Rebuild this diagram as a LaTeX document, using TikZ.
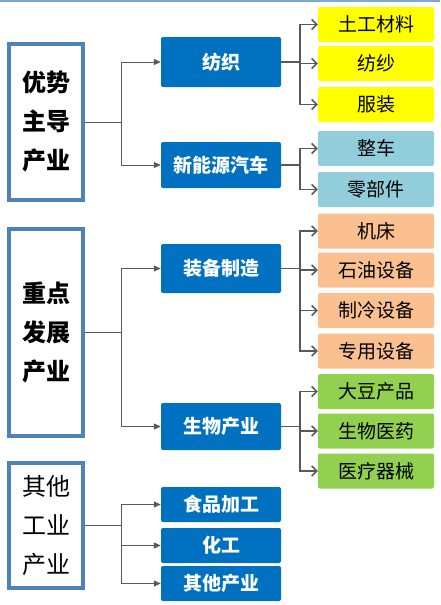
\documentclass[tikz,border=0pt]{standalone}
\usepackage{fontspec}
\setmainfont{Noto Sans CJK SC}
\usetikzlibrary{arrows.meta}
\definecolor{topblue}{HTML}{7AA9CF}
\definecolor{groupblue}{HTML}{4F81BD}
\definecolor{sectorblue}{HTML}{0070C0}
\definecolor{linkgray}{HTML}{595959}
\definecolor{textileyellow}{HTML}{FFFF00}
\definecolor{carblue}{HTML}{92CDDC}
\definecolor{machineorange}{HTML}{FAC090}
\definecolor{biogreen}{HTML}{92D050}
\begin{document}
\begin{tikzpicture}[x=1pt,y=-1pt]

\tikzset{groupbox/.style={draw=groupblue, line width=3.5pt, minimum width=74pt, inner sep=0pt, align=center, font=\fontsize{24}{39}\selectfont\bfseries}}
\tikzset{sector/.style={fill=sectorblue, rounded corners=2pt, minimum width=120pt, inner sep=0pt, text=white, font=\fontsize{19}{21}\selectfont\bfseries}}
\tikzset{product/.style={rounded corners=2pt, minimum width=116pt, minimum height=35pt, inner sep=0pt, text=black, font=\fontsize{19}{21}\selectfont}}
\tikzset{mainlink/.style={draw=linkgray, line width=1pt, -{Triangle[length=7pt,width=6pt]}}}
\tikzset{sublink/.style={draw=linkgray, line width=1.5pt, -{Straight Barb[length=5pt,width=10pt]}}}

\useasboundingbox (0,0) rectangle (440,605);
\fill[topblue] (0,0) rectangle (440,2);

\node[groupbox, minimum height=156pt] (g1) at (46,122) {优势\\主导\\产业};
\node[groupbox, minimum height=207pt] (g2) at (46,332.5) {重点\\发展\\产业};
\node[groupbox, minimum height=125pt, font=\fontsize{24}{39}\selectfont] (g3) at (46,525.5) {其他\\工业\\产业};

\node[sector, minimum height=50pt] (s1) at (221,62) {纺织};
\node[sector, minimum height=46pt] (s2) at (221,165) {新能源汽车};
\node[sector, minimum height=49pt] (s3) at (221,268.5) {装备制造};
\node[sector, minimum height=47pt] (s4) at (221,426.5) {生物产业};
\node[sector, minimum height=35pt] (s5) at (221,504.5) {食品加工};
\node[sector, minimum height=35pt] (s6) at (221,545.5) {化工};
\node[sector, minimum height=35pt] (s7) at (221,583.5) {其他产业};

\node[product, fill=textileyellow] (p1) at (376,24.5) {土工材料};
\node[product, fill=textileyellow] (p2) at (376,63.5) {纺纱};
\node[product, fill=textileyellow] (p3) at (376,104.5) {服装};
\node[product, fill=carblue] (p4) at (376,148.5) {整车};
\node[product, fill=carblue] (p5) at (376,189.5) {零部件};
\node[product, fill=machineorange] (p6) at (376,231) {机床};
\node[product, fill=machineorange] (p7) at (376,270) {石油设备};
\node[product, fill=machineorange] (p8) at (376,310.5) {制冷设备};
\node[product, fill=machineorange] (p9) at (376,351) {专用设备};
\node[product, fill=biogreen] (p10) at (376,391.5) {大豆产品};
\node[product, fill=biogreen] (p11) at (376,431) {生物医药};
\node[product, fill=biogreen] (p12) at (376,471) {医疗器械};

\foreach \s in {s1,s2} \draw[mainlink] (g1.east) -- ++(37,0) |- (\s.west);
\foreach \s in {s3,s4} \draw[mainlink] (g2.east) -- ++(37,0) |- (\s.west);
\foreach \s in {s5,s6,s7} \draw[mainlink] (g3.east) -- ++(37,0) |- (\s.west);

\foreach \p in {p1,p2,p3} \draw[sublink] (s1.east) -- ++(19,0) |- (\p.west);
\foreach \p in {p4,p5} \draw[sublink] (s2.east) -- ++(19,0) |- (\p.west);
\foreach \p in {p6,p7,p8,p9} \draw[sublink] (s3.east) -- ++(19,0) |- (\p.west);
\foreach \p in {p10,p11,p12} \draw[sublink] (s4.east) -- ++(19,0) |- (\p.west);

\end{tikzpicture}
\end{document}
